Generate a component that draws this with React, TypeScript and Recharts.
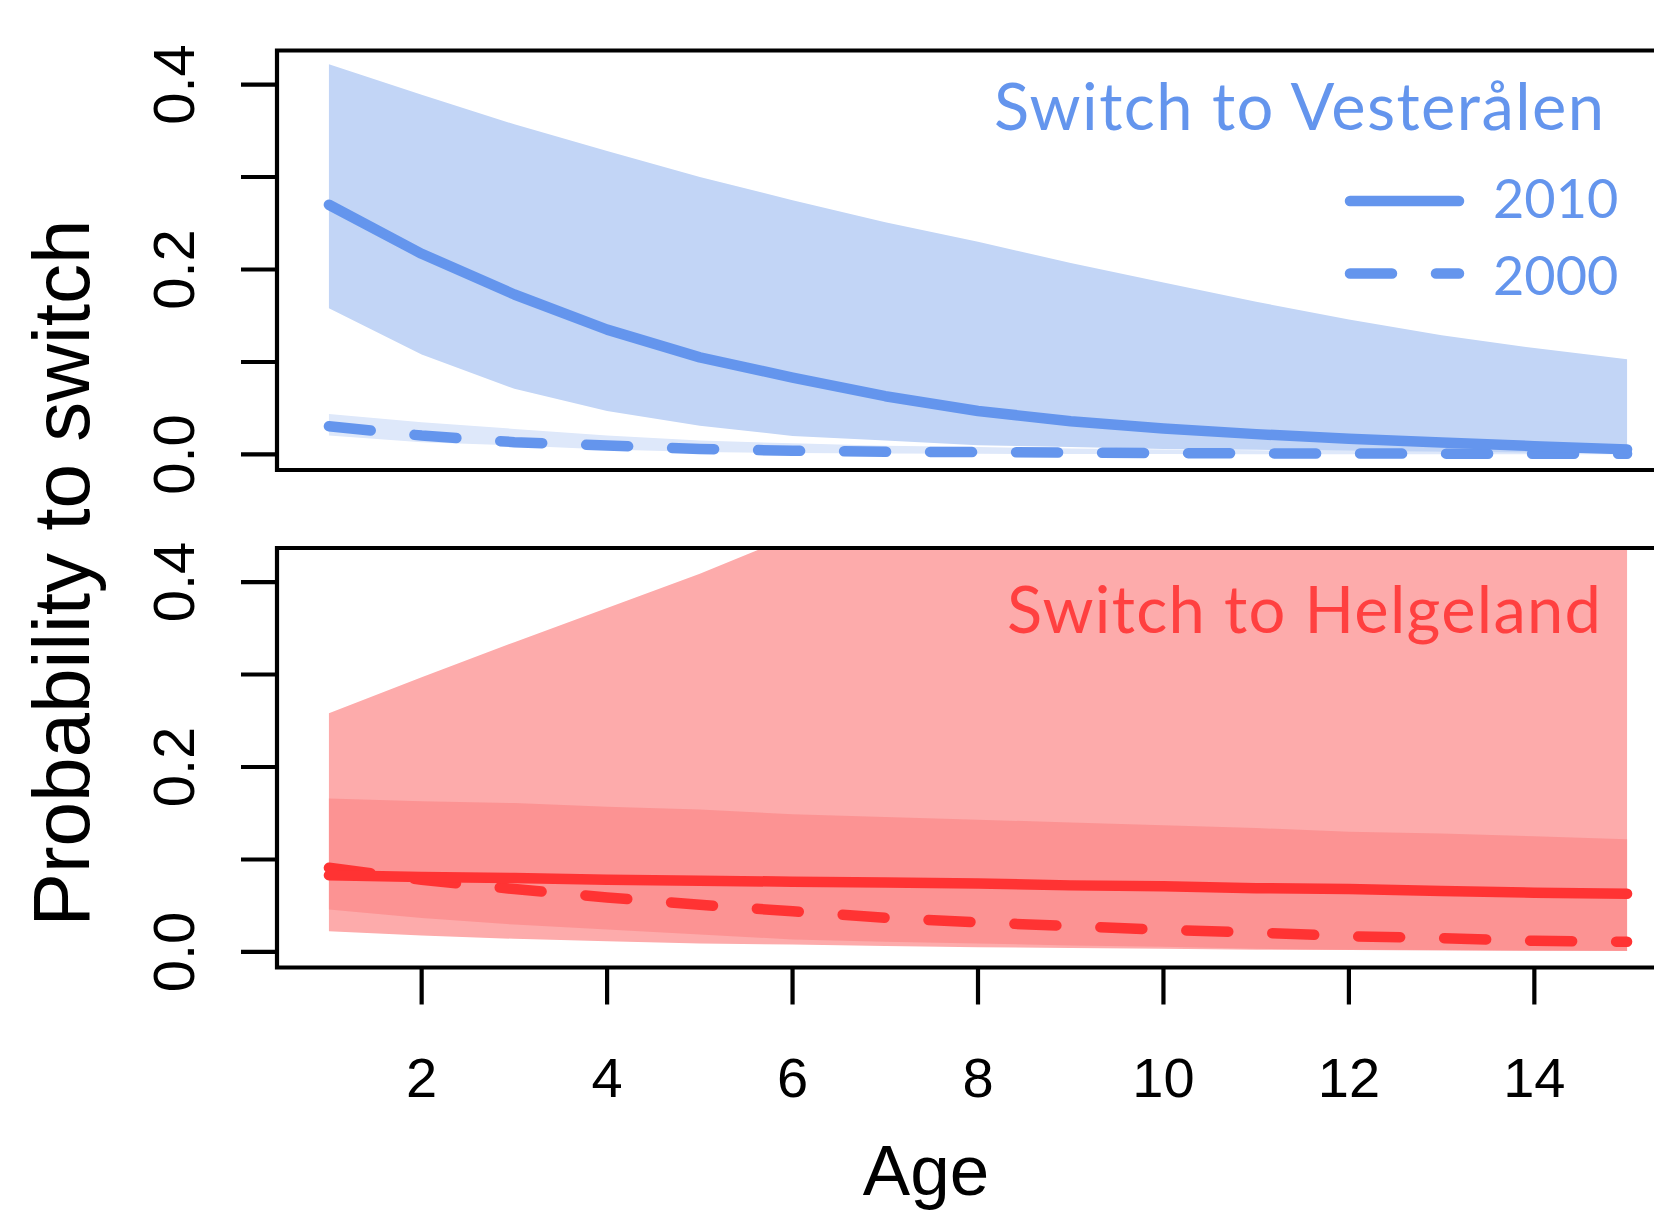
import React from 'react';
import { ComposedChart, Area, Line, XAxis, YAxis, ReferenceArea } from 'recharts';

// ---------- data ----------
const ages = [1, 2, 3, 4, 5, 6, 7, 8, 9, 10, 11, 12, 13, 14, 15];

// Switch to Vesterålen
const vest2010Mean = [0.270, 0.217, 0.173, 0.135, 0.105, 0.083, 0.063, 0.047, 0.036, 0.028, 0.022, 0.017, 0.013, 0.009, 0.0055];
const vest2010Lo = [0.158, 0.108, 0.071, 0.047, 0.031, 0.020, 0.015, 0.010, 0.008, 0.006, 0.005, 0.004, 0.003, 0.002, 0.002];
const vest2010Hi = [0.422, 0.389, 0.357, 0.328, 0.300, 0.275, 0.251, 0.230, 0.207, 0.186, 0.165, 0.146, 0.129, 0.115, 0.103];
const vest2000Mean = [0.0305, 0.0204, 0.0133, 0.0097, 0.006, 0.004, 0.003, 0.0025, 0.002, 0.0015, 0.0012, 0.001, 0.0009, 0.0008, 0.0007];
const vest2000Lo = [0.0204, 0.0133, 0.0097, 0.0054, 0.0026, 0.0015, 0.001, 0.0007, 0.0005, 0.0004, 0.0003, 0.0002, 0.0002, 0.0001, 0.0001];
const vest2000Hi = [0.0437, 0.0348, 0.0276, 0.0204, 0.015, 0.012, 0.0095, 0.008, 0.0065, 0.0055, 0.0045, 0.004, 0.0035, 0.003, 0.0025];

// Switch to Helgeland
const helg2010Mean = [0.083, 0.081, 0.080, 0.078, 0.077, 0.076, 0.075, 0.074, 0.072, 0.071, 0.069, 0.068, 0.066, 0.064, 0.063];
const helg2010Lo = [0.0458, 0.0368, 0.0296, 0.0242, 0.0189, 0.0135, 0.011, 0.0092, 0.007, 0.0056, 0.0034, 0.0025, 0.002, 0.0015, 0.0012];
const helg2010Hi = [0.166, 0.163, 0.161, 0.157, 0.154, 0.149, 0.146, 0.143, 0.140, 0.137, 0.134, 0.130, 0.128, 0.125, 0.122];
const helg2000Mean = [0.091, 0.078, 0.068, 0.059, 0.051, 0.044, 0.037, 0.032, 0.028, 0.024, 0.021, 0.017, 0.015, 0.012, 0.011];
const helg2000Lo = [0.0224, 0.0178, 0.0142, 0.0117, 0.0092, 0.0081, 0.0065, 0.0052, 0.0042, 0.0034, 0.0025, 0.002, 0.0016, 0.0012, 0.001];
const helg2000Hi = [0.258, 0.297, 0.335, 0.372, 0.409, 0.45, 0.49, 0.53, 0.57, 0.61, 0.65, 0.69, 0.72, 0.75, 0.78];

const xTicks = [2, 4, 6, 8, 10, 12, 14];
const yTicks = [0, 0.1, 0.2, 0.3, 0.4];
const yTickLabels = ['0.0', '', '0.2', '', '0.4'];
const legendYears = ['2010', '2000'];
const panelTitles = ['Switch to Vesterålen', 'Switch to Helgeland'];
const xAxisTitle = 'Age';
const yAxisTitle = 'Probability to switch';

const X_DOMAIN: [number, number] = [0.44, 15.56];
const Y_DOMAIN: [number, number] = [-0.0168, 0.4368];

const build = (m10: number[], lo10: number[], hi10: number[], m00: number[], lo00: number[], hi00: number[]) =>
  ages.map((age, i) => ({
    age,
    band2010: [lo10[i], hi10[i]],
    band2000: [lo00[i], hi00[i]],
    mean2010: m10[i],
    mean2000: m00[i],
  }));

const vestData = build(vest2010Mean, vest2010Lo, vest2010Hi, vest2000Mean, vest2000Lo, vest2000Hi);
const helgData = build(helg2010Mean, helg2010Lo, helg2010Hi, helg2000Mean, helg2000Lo, helg2000Hi);

// ---------- styles ----------
const BLUE = '#6495ED';
const BLUE_BAND_2010 = '#C2D5F6';
const BLUE_BAND_2000 = '#DEE8FA';
const RED = '#FF3333';
const RED_TEXT = '#FF4040';
const RED_BAND_2000 = '#FDABAB';
const RED_BAND_2010 = '#FC9393';
const AXIS_FONT = '"Liberation Sans", Arial, sans-serif';
const TITLE_FONT = 'Lato, "Open Sans", sans-serif';
const LW = 10.5;
const DASH = '42 44';
const FRAME_W = 4.2;

const tickLineStyle = { stroke: '#000', strokeWidth: FRAME_W };

const XTick = (props: any) => {
  const { x, y, payload } = props;
  return (
    <text x={x} y={y + 92.5} textAnchor="middle" fontFamily={AXIS_FONT} fontSize={56} fill="#000">
      {String(payload.value)}
    </text>
  );
};

const YTick = (props: any) => {
  const { x, y, payload } = props;
  const idx = yTicks.indexOf(payload.value);
  const label = idx >= 0 ? yTickLabels[idx] : '';
  if (!label) return <g />;
  return (
    <text
      transform={`translate(${x - 47},${y}) rotate(-90)`}
      textAnchor="middle"
      fontFamily={AXIS_FONT}
      fontSize={58}
      fill="#000"
    >
      {label}
    </text>
  );
};

type PanelProps = {
  data: any[];
  height: number;
  marginTop: number;
  axisHeight: number;
  showXLabels: boolean;
  line: string;
  band2010: string;
  band2000: string;
};

const Panel = ({ data, height, marginTop, axisHeight, showXLabels, line, band2010, band2000 }: PanelProps) => (
  <ComposedChart
    width={1720}
    height={height}
    data={data}
    margin={{ top: marginTop, right: 41, bottom: 0, left: 0 }}
  >
    <XAxis
      type="number"
      dataKey="age"
      domain={X_DOMAIN}
      ticks={xTicks}
      interval={0}
      allowDataOverflow
      height={axisHeight}
      axisLine={false}
      tickLine={tickLineStyle}
      tickSize={37}
      tickMargin={0}
      tick={showXLabels ? (p: any) => <XTick {...p} /> : false}
    />
    <YAxis
      type="number"
      domain={Y_DOMAIN}
      ticks={yTicks}
      interval={0}
      allowDataOverflow
      width={277}
      axisLine={false}
      tickLine={tickLineStyle}
      tickSize={36}
      tickMargin={0}
      tick={(p: any) => <YTick {...p} />}
    />
    <Area
      dataKey="band2000"
      type="linear"
      stroke="none"
      fill={band2000}
      fillOpacity={1}
      isAnimationActive={false}
      legendType="none"
      activeDot={false}
    />
    <Area
      dataKey="band2010"
      type="linear"
      stroke="none"
      fill={band2010}
      fillOpacity={1}
      isAnimationActive={false}
      legendType="none"
      activeDot={false}
    />
    <Line
      dataKey="mean2000"
      name="2000"
      type="linear"
      stroke={line}
      strokeWidth={LW}
      strokeDasharray={DASH}
      strokeLinecap="round"
      dot={false}
      activeDot={false}
      isAnimationActive={false}
    />
    <Line
      dataKey="mean2010"
      name="2010"
      type="linear"
      stroke={line}
      strokeWidth={LW}
      strokeLinecap="round"
      strokeLinejoin="round"
      dot={false}
      activeDot={false}
      isAnimationActive={false}
    />
    <ReferenceArea
      x1={X_DOMAIN[0]}
      x2={X_DOMAIN[1]}
      y1={Y_DOMAIN[0]}
      y2={Y_DOMAIN[1]}
      fill="none"
      fillOpacity={0}
      stroke="#000"
      strokeWidth={FRAME_W}
      ifOverflow="visible"
      {...({ zIndex: 1000 } as any)}
    />
  </ComposedChart>
);

export default function App() {
  return (
    <div
      style={{
        position: 'absolute',
        left: 0,
        top: 0,
        width: 1654,
        height: 1216,
        overflow: 'hidden',
        background: '#fff',
      }}
    >
      <div style={{ position: 'absolute', left: 0, top: 0 }}>
        <Panel
          data={vestData}
          height={520}
          marginTop={50.5}
          axisHeight={50}
          showXLabels={false}
          line={BLUE}
          band2010={BLUE_BAND_2010}
          band2000={BLUE_BAND_2000}
        />
      </div>
      <div style={{ position: 'absolute', left: 0, top: 520 }}>
        <Panel
          data={helgData}
          height={696}
          marginTop={28}
          axisHeight={248.5}
          showXLabels={true}
          line={RED}
          band2010={RED_BAND_2010}
          band2000={RED_BAND_2000}
        />
      </div>
      <svg
        width={1654}
        height={1216}
        style={{ position: 'absolute', left: 0, top: 0, pointerEvents: 'none' }}
      >
        <text
          transform="translate(89,573) rotate(-90)"
          textAnchor="middle"
          fontFamily={AXIS_FONT}
          fontSize={80}
          fill="#000"
        >
          {yAxisTitle}
        </text>
        <text x={926} y={1195} textAnchor="middle" fontFamily={AXIS_FONT} fontSize={71} fill="#000">
          {xAxisTitle}
        </text>
        <text
          x={994}
          y={130}
          fontFamily={TITLE_FONT}
          fontSize={65}
          fill={BLUE}
          textLength={610}
          lengthAdjust="spacing"
        >
          {panelTitles[0]}
        </text>
        <line x1={1350} y1={201} x2={1459} y2={201} stroke={BLUE} strokeWidth={LW} strokeLinecap="round" />
        <line
          x1={1350}
          y1={273.5}
          x2={1459}
          y2={273.5}
          stroke={BLUE}
          strokeWidth={LW}
          strokeLinecap="round"
          strokeDasharray={DASH}
        />
        <text x={1493} y={218.3} fontFamily={TITLE_FONT} fontSize={54} fill={BLUE}>
          {legendYears[0]}
        </text>
        <text x={1493} y={295} fontFamily={TITLE_FONT} fontSize={54} fill={BLUE}>
          {legendYears[1]}
        </text>
        <text
          x={1007}
          y={633.3}
          fontFamily={TITLE_FONT}
          fontSize={65}
          fill={RED_TEXT}
          textLength={594}
          lengthAdjust="spacing"
        >
          {panelTitles[1]}
        </text>
      </svg>
    </div>
  );
}
